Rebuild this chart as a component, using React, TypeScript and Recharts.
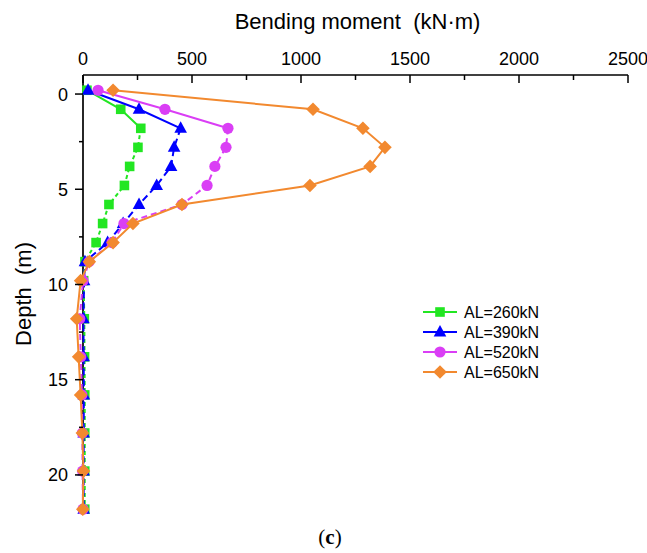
import React from 'react';
import { ScatterChart, Scatter, XAxis, YAxis, Legend } from 'recharts';

// Depth of measuring points (m)
const depths = [-0.2, 0.8, 1.8, 2.8, 3.8, 4.8, 5.8, 6.8, 7.8, 8.8, 9.8, 11.8, 13.8, 15.8, 17.8, 19.8, 21.8];

// Bending moment (kN·m) for each axial load
const al260 = [18, 173, 265, 252, 214, 190, 119, 90, 60, 9, 3, 6, 7, 8, 8, 8, 8];
const al390 = [23, 257, 448, 418, 404, 338, 257, 184, 113, 9, 5, 2, 3, 4, 3, 3, 3];
const al520 = [69, 376, 665, 656, 605, 569, 454, 188, 133, 28, 0, -15, -10, -5, -3, -2, 0];
const al650 = [138, 1055, 1284, 1385, 1317, 1041, 454, 229, 138, 29, -11, -29, -20, -11, -3, 2, -1];

const seriesNames = ['AL=260kN', 'AL=390kN', 'AL=520kN', 'AL=650kN'];
const seriesValues = [al260, al390, al520, al650];
const seriesColors = ['#22e622', '#0000ff', '#da3ef5', '#f2892f'];
const seriesMarkers = ['square', 'triangle', 'circle', 'diamond'];
const seriesDash = ['4 3', '7 4', '6 4', ''];
const seriesSolidCount = [3, 3, 3, depths.length];

const xTicks = [0, 250, 500, 750, 1000, 1250, 1500, 1750, 2000, 2250, 2500];
const xMajor = [0, 500, 1000, 1500, 2000, 2500];
const yTicks = [0, 2.5, 5, 7.5, 10, 12.5, 15, 17.5, 20];
const yMajor = [0, 5, 10, 15, 20];

const FONT = 'Arial, "Liberation Sans", sans-serif';

function Marker({ kind, cx, cy, color }: { kind: string; cx: number; cy: number; color: string }) {
  if (kind === 'square') {
    return <rect x={cx - 4.8} y={cy - 4.8} width={9.6} height={9.6} fill={color} />;
  }
  if (kind === 'triangle') {
    return (
      <polygon
        points={`${cx},${cy - 7} ${cx - 6.3},${cy + 4.5} ${cx + 6.3},${cy + 4.5}`}
        fill={color}
      />
    );
  }
  if (kind === 'circle') {
    return <circle cx={cx} cy={cy} r={5.6} fill={color} />;
  }
  return (
    <polygon
      points={`${cx},${cy - 6.8} ${cx + 6.8},${cy} ${cx},${cy + 6.8} ${cx - 6.8},${cy}`}
      fill={color}
    />
  );
}

const XTick = (props: any) => {
  const { x, y, payload } = props;
  const v = payload.value;
  const major = xMajor.includes(v);
  return (
    <g>
      <line x1={x} x2={x} y1={y} y2={y + (major ? 8 : 5)} stroke="#000" strokeWidth={1.5} />
      {major && (
        <text x={x} y={y - 10} textAnchor="middle" fontSize={18} fontFamily={FONT} fill="#000">
          {v}
        </text>
      )}
    </g>
  );
};

const YTick = (props: any) => {
  const { x, y, payload } = props;
  const v = payload.value;
  const major = yMajor.includes(v);
  return (
    <g>
      <line x1={x - (major ? 8 : 4)} x2={x} y1={y} y2={y} stroke="#000" strokeWidth={1.5} />
      {major && (
        <text x={x - 15} y={y + 6.5} textAnchor="end" fontSize={18} fontFamily={FONT} fill="#000">
          {v}
        </text>
      )}
    </g>
  );
};

const LegendContent = () => (
  <svg width={150} height={84} style={{ display: 'block' }}>
    {seriesNames.map((name, i) => {
      const cy = 10 + i * 20;
      return (
        <g key={name}>
          <line x1={3} x2={37} y1={cy} y2={cy} stroke={seriesColors[i]} strokeWidth={2} />
          <Marker kind={seriesMarkers[i]} cx={20} cy={cy} color={seriesColors[i]} />
          <text x={44} y={cy + 6} fontSize={16} fontFamily={FONT} fill="#000">
            {name}
          </text>
        </g>
      );
    })}
  </svg>
);

export default function App() {
  const layers: React.ReactNode[] = [];
  seriesNames.forEach((name, i) => {
    const pts = seriesValues[i].map((v, k) => ({ x: v, y: depths[k] }));
    const color = seriesColors[i];
    const solid = pts.slice(0, seriesSolidCount[i]);
    const dashed = pts.slice(seriesSolidCount[i] - 1);
    if (dashed.length > 1) {
      layers.push(
        <Scatter
          key={`${name}-dash`}
          data={dashed}
          fill={color}
          line={{ stroke: color, strokeWidth: 2, strokeDasharray: seriesDash[i] }}
          shape={() => <g />}
          isAnimationActive={false}
          legendType="none"
        />
      );
    }
    layers.push(
      <Scatter
        key={`${name}-solid`}
        data={solid}
        fill={color}
        line={{ stroke: color, strokeWidth: 2 }}
        shape={() => <g />}
        isAnimationActive={false}
        legendType="none"
      />
    );
    layers.push(
      <Scatter
        key={`${name}-marks`}
        name={name}
        data={pts}
        fill={color}
        shape={(p: any) => <Marker kind={seriesMarkers[i]} cx={p.cx} cy={p.cy} color={color} />}
        isAnimationActive={false}
      />
    );
  });

  return (
    <div style={{ position: 'absolute', left: 0, top: 0, width: 647, height: 553, background: '#fff' }}>
      <style>{`.recharts-scatter{clip-path:none !important;}`}</style>
      <ScatterChart width={647} height={553} margin={{ top: 25, right: 19, bottom: 40, left: 43 }}>
        <XAxis
          type="number"
          dataKey="x"
          orientation="top"
          domain={[0, 2500]}
          allowDataOverflow
          ticks={xTicks}
          interval={0}
          height={50}
          tickSize={0}
          tickMargin={0}
          tickLine={false}
          tick={XTick}
          axisLine={{ stroke: '#000', strokeWidth: 1.7 }}
          label={{
            content: (lp: any) => {
              const vb = lp.viewBox || {};
              return (
                <text
                  x={vb.x + vb.width / 2 + 2}
                  y={vb.y + 4}
                  textAnchor="middle"
                  fontSize={22}
                  fontFamily={FONT}
                  fill="#000"
                  style={{ whiteSpace: 'pre' }}
                >
                  {'Bending moment  (kN·m)'}
                </text>
              );
            },
          }}
        />
        <YAxis
          type="number"
          dataKey="y"
          reversed
          domain={[-1, 22]}
          allowDataOverflow
          ticks={yTicks}
          interval={0}
          width={40}
          tickSize={0}
          tickMargin={0}
          tickLine={false}
          tick={YTick}
          axisLine={{ stroke: '#000', strokeWidth: 1.7 }}
          label={{
            content: (lp: any) => {
              const vb = lp.viewBox || {};
              const cx = vb.x - 12;
              const cy = vb.y + vb.height / 2;
              return (
                <text
                  transform={`translate(${cx}, ${cy}) rotate(-90)`}
                  textAnchor="middle"
                  fontSize={22}
                  fontFamily={FONT}
                  fill="#000"
                  style={{ whiteSpace: 'pre' }}
                >
                  {'Depth  (m)'}
                </text>
              );
            },
          }}
        />
        <Legend
          layout="vertical"
          align="center"
          verticalAlign="middle"
          content={LegendContent}
          wrapperStyle={{ left: 420, top: 302, width: 150 }}
        />
        {layers}
      </ScatterChart>
      <div
        style={{
          position: 'absolute',
          left: 0,
          top: 525,
          width: 660,
          textAlign: 'center',
          fontFamily: '"Liberation Serif", "Times New Roman", serif',
          fontSize: 21,
          lineHeight: '24px',
          color: '#000',
        }}
      >
        (<b>c</b>)
      </div>
    </div>
  );
}
